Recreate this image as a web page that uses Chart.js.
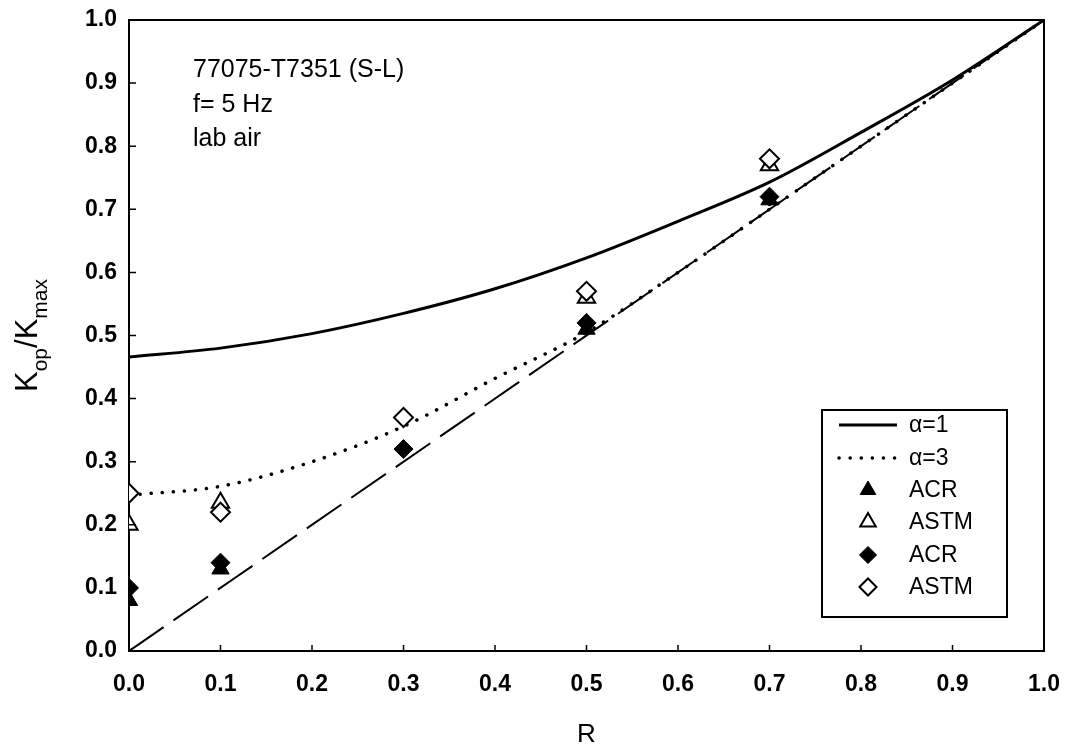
<!DOCTYPE html>
<html>
<head>
<meta charset="utf-8">
<script src="https://cdn.jsdelivr.net/npm/chart.js@4/dist/chart.umd.min.js"></script>
<style>
  body { margin: 0; background: #fff; }
  #wrap { width: 1070px; height: 750px; }
</style>
</head>
<body>
<div id="wrap"><canvas id="kopChart" width="1070" height="750"></canvas></div>
<script>
// model curves
const curveR = [0, 0.1, 0.2, 0.3, 0.4, 0.5, 0.6, 0.7, 0.8, 0.9, 1.0];
const alpha1 = [0.466, 0.480, 0.503, 0.535, 0.574, 0.623, 0.681, 0.743, 0.822, 0.905, 1.0];
const alpha3 = [0.247, 0.261, 0.300, 0.356, 0.432, 0.505, 0.600, 0.700, 0.800, 0.900, 1.0];
const diagR = [0, 1];
const diagK = [0, 1];

// measured points
const acrTriR = [0, 0.1, 0.5, 0.7];
const acrTriK = [0.08, 0.13, 0.51, 0.715];
const astmTriR = [0, 0.1, 0.5, 0.7];
const astmTriK = [0.20, 0.235, 0.56, 0.77];
const acrDiaR = [0, 0.1, 0.3, 0.5, 0.7];
const acrDiaK = [0.10, 0.14, 0.32, 0.52, 0.72];
const astmDiaR = [0, 0.1, 0.3, 0.5, 0.7];
const astmDiaK = [0.25, 0.22, 0.37, 0.57, 0.78];

const tickLabels = ["0.0", "0.1", "0.2", "0.3", "0.4", "0.5", "0.6", "0.7", "0.8", "0.9", "1.0"];
const noteLines = ["77075-T7351 (S-L)", "f= 5 Hz", "lab air"];

const FONT = "'Liberation Sans', Arial, sans-serif";

function pts(xs, ys) {
  return xs.map((x, i) => ({ x: x, y: ys[i] }));
}

function lineSet(label, xs, ys, width, dash, cap, order) {
  return {
    label: label,
    data: pts(xs, ys),
    showLine: true,
    borderColor: "#000",
    borderWidth: width,
    borderDash: dash,
    borderCapStyle: cap,
    cubicInterpolationMode: "monotone",
    pointRadius: 0,
    order: order,
  };
}

function markerSet(label, xs, ys, style, filled, radius, order) {
  return {
    label: label,
    data: pts(xs, ys),
    showLine: false,
    pointStyle: style,
    pointRadius: radius,
    pointHoverRadius: radius,
    pointBackgroundColor: filled ? "#000" : "#fff",
    pointBorderColor: "#000",
    pointBorderWidth: filled ? 1 : 2,
    order: order,
  };
}

const datasets = [
  lineSet("α=1", curveR, alpha1, 3, [], "butt", 3),
  lineSet("α=3", curveR, alpha3, 3.5, [0.1, 11], "round", 3),
  markerSet("ACR", acrTriR, acrTriK, "triangle", true, 10, 1),
  markerSet("ASTM", astmTriR, astmTriK, "triangle", false, 10, 1),
  markerSet("ACR", acrDiaR, acrDiaK, "rectRot", true, 9.5, 0),
  markerSet("ASTM", astmDiaR, astmDiaK, "rectRot", false, 9.5, 0),
  lineSet("", diagR, diagK, 2, [42, 12], "butt", 4),
];

const framePlugin = {
  id: "frame",
  afterDraw(chart) {
    const ctx = chart.ctx;
    const a = chart.chartArea;
    const xs = chart.scales.x;
    const ys = chart.scales.y;
    ctx.save();
    ctx.strokeStyle = "#000";
    ctx.lineWidth = 2;

    // top and right sides of the box
    ctx.beginPath();
    ctx.moveTo(a.left, a.top);
    ctx.lineTo(a.right, a.top);
    ctx.lineTo(a.right, a.bottom);
    ctx.stroke();

    // inward tick marks
    ctx.lineWidth = 1.5;
    ctx.beginPath();
    ys.ticks.forEach((t) => {
      const y = ys.getPixelForValue(t.value);
      ctx.moveTo(a.left, y);
      ctx.lineTo(a.left + 7, y);
    });
    xs.ticks.forEach((t) => {
      const x = xs.getPixelForValue(t.value);
      ctx.moveTo(x, a.bottom);
      ctx.lineTo(x, a.bottom - 6);
    });
    ctx.stroke();

    // y axis title with subscripts
    ctx.fillStyle = "#000";
    ctx.textBaseline = "alphabetic";
    ctx.textAlign = "left";
    const parts = [
      { t: "K", f: "31px " + FONT, dy: 0 },
      { t: "op", f: "21px " + FONT, dy: 10 },
      { t: "/", f: "31px " + FONT, dy: 0 },
      { t: "K", f: "31px " + FONT, dy: 0 },
      { t: "max", f: "21px " + FONT, dy: 10 },
    ];
    let total = 0;
    parts.forEach((p) => {
      ctx.font = p.f;
      p.w = ctx.measureText(p.t).width;
      total += p.w;
    });
    ctx.translate(37, (a.top + a.bottom) / 2 + total / 2);
    ctx.rotate(-Math.PI / 2);
    let pos = 0;
    parts.forEach((p) => {
      ctx.font = p.f;
      ctx.fillText(p.t, pos, p.dy);
      pos += p.w;
    });
    ctx.restore();

    // annotation
    ctx.save();
    ctx.fillStyle = "#000";
    ctx.font = "25px " + FONT;
    ctx.textBaseline = "alphabetic";
    noteLines.forEach((line, i) => {
      ctx.fillText(line, 193, 77 + i * 34.5);
    });

    // x axis title
    ctx.font = "26px " + FONT;
    ctx.textAlign = "center";
    ctx.textBaseline = "middle";
    ctx.fillText("R", (a.left + a.right) / 2, 735);
    ctx.restore();

    // legend
    ctx.save();
    ctx.strokeStyle = "#000";
    ctx.lineWidth = 2;
    ctx.strokeRect(822, 410, 185, 207);
    const rowY = [425, 458, 490, 522, 555, 587];
    ctx.font = "23px " + FONT;
    ctx.textBaseline = "middle";
    ctx.textAlign = "left";
    datasets.slice(0, 6).forEach((ds, i) => {
      const y = rowY[i];
      ctx.save();
      if (ds.showLine) {
        ctx.strokeStyle = "#000";
        ctx.lineWidth = ds.borderWidth;
        ctx.setLineDash(ds.borderDash);
        ctx.lineCap = ds.borderCapStyle;
        ctx.beginPath();
        ctx.moveTo(839, y);
        ctx.lineTo(897, y);
        ctx.stroke();
      } else {
        ctx.fillStyle = ds.pointBackgroundColor;
        ctx.strokeStyle = "#000";
        ctx.lineWidth = ds.pointBorderWidth;
        Chart.helpers.drawPoint(ctx, {
          pointStyle: ds.pointStyle,
          radius: ds.pointRadius * 0.9,
          rotation: 0,
          borderWidth: ds.pointBorderWidth,
        }, 868, y);
      }
      ctx.restore();
      ctx.fillStyle = "#000";
      ctx.fillText(ds.label, 909, y + 1);
    });
    ctx.restore();
  },
};

new Chart(document.getElementById("kopChart"), {
  type: "scatter",
  data: { datasets: datasets },
  options: {
    responsive: false,
    animation: false,
    layout: { padding: { top: 20, right: 26, left: 0, bottom: 0 } },
    plugins: {
      legend: { display: false },
      tooltip: { enabled: false },
    },
    scales: {
      x: {
        type: "linear",
        min: 0,
        max: 1,
        afterFit: (s) => {
          s.height = 99;
          s.paddingLeft = 0;
          s.paddingRight = 0;
        },
        border: { color: "#000", width: 2 },
        grid: { drawOnChartArea: false, drawTicks: false },
        ticks: {
          stepSize: 0.1,
          padding: 20,
          color: "#000",
          font: { family: FONT, size: 23, weight: "bold" },
          callback: (v, i) => tickLabels[i],
          maxRotation: 0,
        },
      },
      y: {
        type: "linear",
        min: 0,
        max: 1,
        afterFit: (s) => {
          s.width = 129;
          s.paddingTop = 0;
          s.paddingBottom = 0;
        },
        border: { color: "#000", width: 2 },
        grid: { drawOnChartArea: false, drawTicks: false },
        ticks: {
          stepSize: 0.1,
          padding: 12,
          color: "#000",
          font: { family: FONT, size: 23, weight: "bold" },
          callback: (v, i) => tickLabels[i],
        },
      },
    },
  },
  plugins: [framePlugin],
});
</script>
</body>
</html>
